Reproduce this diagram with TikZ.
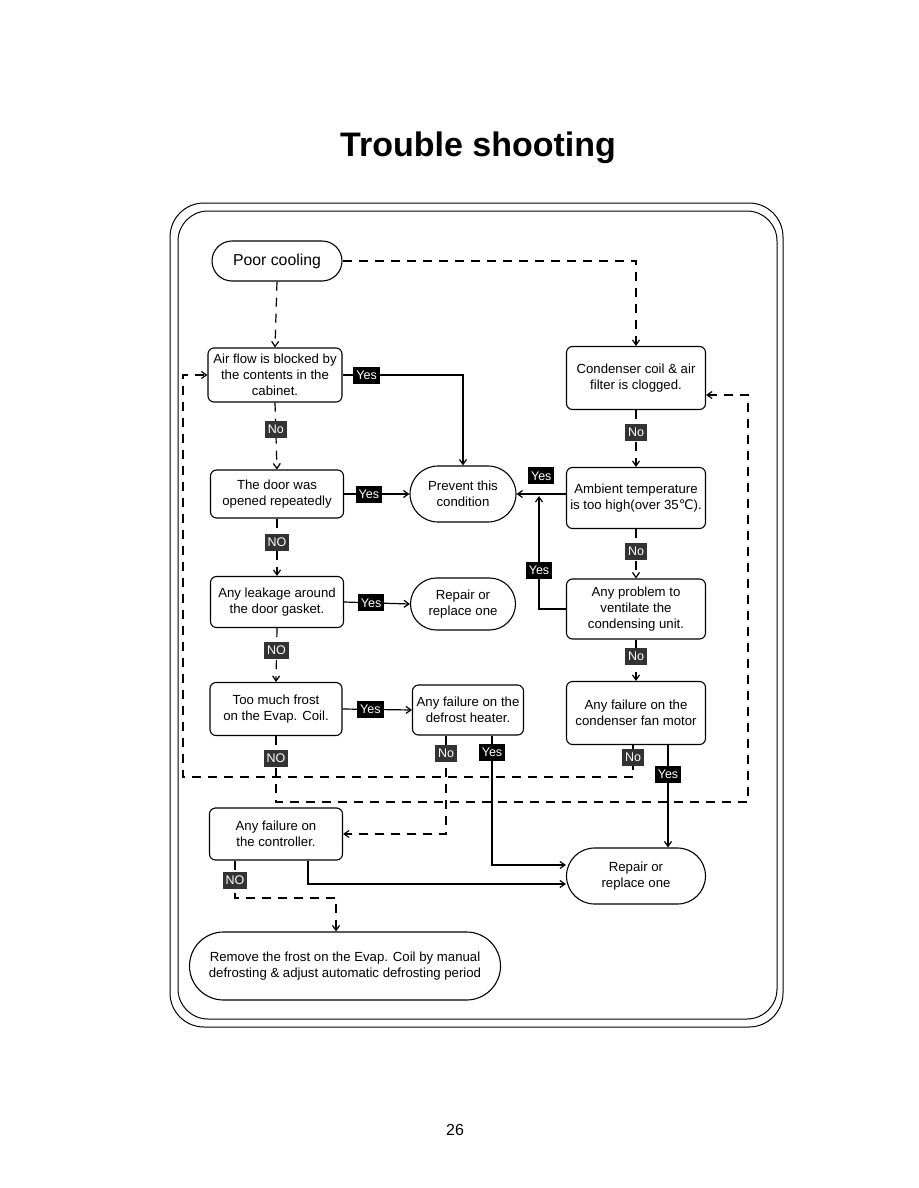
\documentclass[tikz,border=0pt]{standalone}
\usepackage{fontspec}
\setmainfont{Liberation Sans}
\newfontfamily\degfont{DejaVu Sans}
\usetikzlibrary{arrows.meta,positioning,calc}

\begin{document}
\begin{tikzpicture}[x=1pt, y=-1pt,
    box/.style={draw, line width=1.1pt, rounded corners=6pt, minimum width=134pt, minimum height=52pt, align=center, font=\fontsize{13.2}{16}\selectfont, inner sep=1pt},
    term/.style={box, rounded corners=28pt, minimum height=56pt},
    tag/.style={fill=black, text=white, font=\fontsize{12.5}{13}\selectfont, inner xsep=3pt, inner ysep=2pt, minimum height=17pt},
    notag/.style={tag, fill=black!80},
    arr/.style={-{Straight Barb[length=5pt,width=7pt]}, line width=1.2pt},
    darr/.style={arr, dash pattern=on 9pt off 7pt}
]
\useasboundingbox (0,0) rectangle (918,1188);

% frame and title
\draw[line width=1pt, rounded corners=34pt] (170,203) rectangle (783,1027);
\draw[line width=1pt, rounded corners=30pt] (178,211) rectangle (777,1019);
\node[font=\fontsize{34}{40}\selectfont\bfseries] (title) at (478,148) {Trouble shooting};
\node[font=\fontsize{16}{18}\selectfont] (page) at (455,1130) {26};

% left column
\node[term, rounded corners=20pt, minimum width=130pt, minimum height=40pt, font=\fontsize{15.8}{18}\selectfont] (poor) at (277,261) {Poor cooling};
\node[box, minimum height=54pt] (air) at (275,375) {Air flow is blocked by\\the contents in the\\cabinet.};
\node[box, minimum width=133pt, minimum height=48pt] (door) at (277,494) {The door was\\opened repeatedly};
\node[box, minimum width=133pt, minimum height=51pt] (leak) at (277,602) {Any leakage around\\the door gasket.};
\node[box, minimum width=132pt, minimum height=53pt] (frost) at (276,709) {Too much frost\\on the Evap. Coil.};
\node[box, minimum width=133pt] (ctrl) at (276,834) {Any failure on\\the controller.};

% middle column
\node[term, minimum width=106pt] (prev) at (463,494) {Prevent this\\condition};
\node[term, minimum width=105pt, minimum height=52pt, rounded corners=26pt] (rep1) at (463,604) {Repair or\\replace one};
\node[box, minimum width=111pt, minimum height=50pt] (defr) at (468,710) {Any failure on the\\defrost heater.};

% right column
\node[box, minimum width=139pt, minimum height=63pt] (cond) at (636,378) {Condenser coil \& air\\filter is clogged.};
\node[box, minimum width=139pt, minimum height=61pt] (amb) at (636,498) {Ambient temperature\\is too high(over 35{\degfont ℃}).};
\node[box, minimum width=139pt, minimum height=60pt] (vent) at (636,609) {Any problem to\\ventilate the\\condensing unit.};
\node[box, minimum width=139pt, minimum height=63pt] (fan) at (636,713) {Any failure on the\\condenser fan motor};
\node[term, minimum width=139pt] (rep2) at (636,876) {Repair or\\replace one};

% bottom
\node[term, minimum width=311pt, minimum height=68pt, rounded corners=34pt] (rem) at (345,966) {Remove the frost on the Evap. Coil by manual\\defrosting \& adjust automatic defrosting period};

\coordinate (lp1) at (183,777);
\coordinate (lp2) at (748,802);
\coordinate (lp3) at (336,898);
\coordinate (j1) at (539,496);

\draw[darr] (poor.east) -| (cond.north);
\draw[darr] (poor.south) -- (air.north);
\draw[arr] (air.east) -| node[tag, pos=0.1] {Yes} (prev.north);
\draw[darr] (air.south) -- node[notag, pos=0.4] {No} (door.north);
\draw[arr] (door.east) -- node[tag, pos=0.38] {Yes} (prev.west);
\draw[darr] (door.south) -- node[notag, pos=0.41] {NO} (leak.north);
\draw[arr] (leak.east) -- node[tag, pos=0.41] {Yes} (rep1.west);
\draw[darr] (leak.south) -- node[notag, pos=0.41] {NO} (frost.north);
\draw[arr] (frost.east) -- node[tag, pos=0.4] {Yes} (defr.west);
\draw[darr] (frost.south) |- node[notag, pos=0.17] {NO} (lp2) |- ([yshift=-17pt]cond.east);

\draw[darr] (cond.south) -- node[notag, pos=0.39] {No} (amb.north);
\draw[darr] (amb.south) -- node[notag, pos=0.45] {No} (vent.north);
\draw[darr] (vent.south) -- node[notag, pos=0.41] {No} (fan.north);
\draw[arr] ([yshift=4pt]amb.west) -- node[tag, above=9pt] {Yes} (prev.east);
\draw[arr] (vent.west) -| node[tag, pos=0.67] {Yes} (j1);
\draw[darr] ([xshift=-3pt]fan.south) |- node[notag, pos=0.19] {No} (lp1) |- (air.west);
\draw[arr] ([xshift=32pt]fan.south) -- node[tag, pos=0.29] {Yes} ([xshift=32pt]rep2.north);

\draw[darr] ([xshift=-22pt]defr.south) |- node[notag, pos=0.09] {No} (ctrl.east);
\draw[arr] ([xshift=24pt]defr.south) |- node[tag, pos=0.065] {Yes} ([yshift=11pt]rep2.west);
\draw[arr] ([xshift=32pt]ctrl.south) |- ([yshift=-8pt]rep2.west);
\draw[darr] ([xshift=-41pt]ctrl.south) |- node[notag, pos=0.26] {NO} (lp3) -- (lp3 |- rem.north);
\end{tikzpicture}
\end{document}
